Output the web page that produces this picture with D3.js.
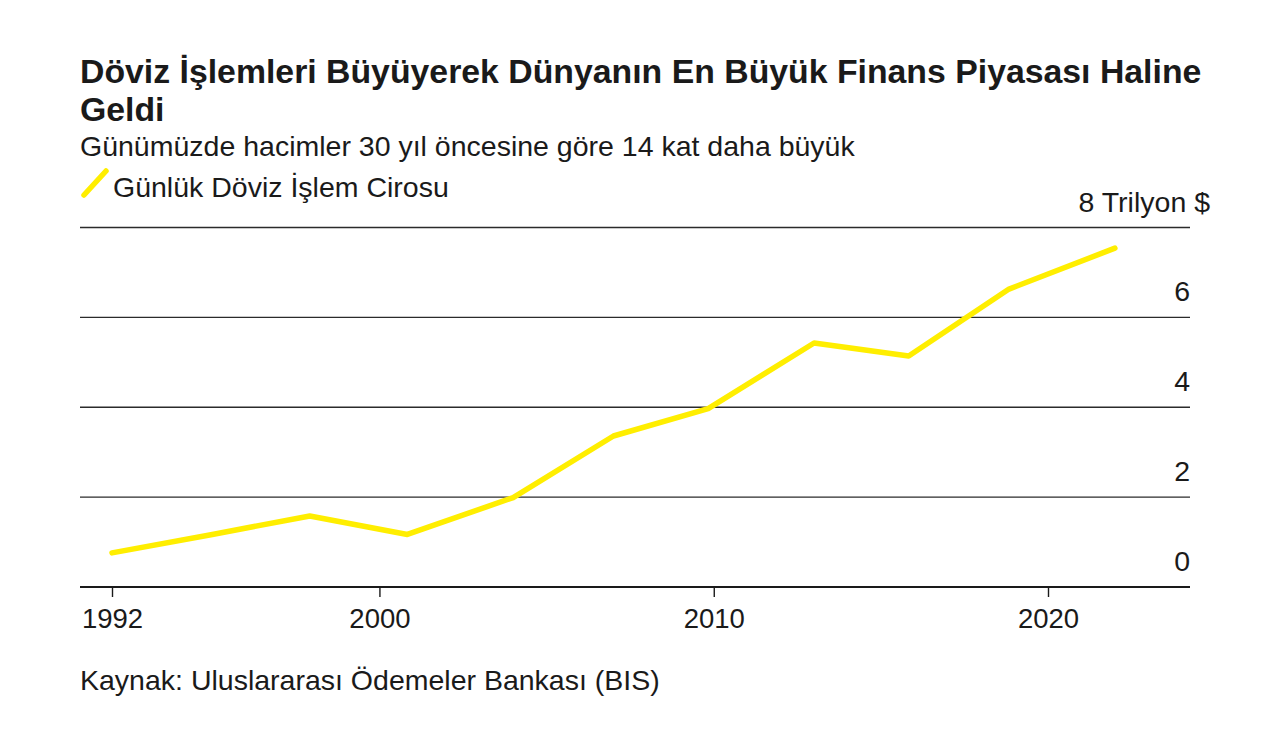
<!DOCTYPE html>
<html>
<head>
<meta charset="utf-8">
<script src="https://cdn.jsdelivr.net/npm/d3@7"></script>
<style>
  html, body { margin: 0; padding: 0; background: #ffffff; }
  svg { display: block; }
  text { font-family: "Liberation Sans", Arial, Helvetica, sans-serif; fill: #1a1a1a; }
</style>
</head>
<body>
<svg id="chart" width="1276" height="745"></svg>
<script>
// ---- Data ----
const titleLines = ["Döviz İşlemleri Büyüyerek Dünyanın En Büyük Finans Piyasası Haline", "Geldi"];
const subtitle = "Günümüzde hacimler 30 yıl öncesine göre 14 kat daha büyük";
const legendLabel = "Günlük Döviz İşlem Cirosu";
const sourceText = "Kaynak: Uluslararası Ödemeler Bankası (BIS)";
const unitLabel = "Trilyon $";

const dates = ["1992-01", "1995-01", "1997-12", "2000-11", "2004-01", "2007-01", "2009-11", "2013-01", "2015-11", "2018-11", "2022-01"];
const turnover = [0.76, 1.17, 1.58, 1.17, 1.99, 3.36, 3.97, 5.43, 5.14, 6.63, 7.54];

const yTicks = [0, 2, 4, 6, 8];
const xTickYears = [1992, 2000, 2010, 2020];

// ---- Layout ----
const svg = d3.select("#chart");
const left = 80, right = 1190;
const textSize = "28.5px";
const parse = d3.timeParse("%Y-%m");
const data = dates.map((d, i) => ({ date: parse(d), value: turnover[i] }));

const x = d3.scaleTime()
  .domain([new Date(1992, 0, 1), new Date(2020, 0, 1)])
  .range([112, 1048]);
const y = d3.scaleLinear().domain([0, 8]).range([587, 227.5]);

// Title
svg.append("g").selectAll("text").data(titleLines).join("text")
  .attr("x", left)
  .attr("y", (d, i) => 82.5 + i * 38.5)
  .style("font-size", "33.8px")
  .style("font-weight", "bold")
  .text(d => d);

svg.append("text")
  .attr("x", left).attr("y", 155.5)
  .style("font-size", textSize)
  .text(subtitle);

// Legend
svg.append("line")
  .attr("x1", 84).attr("y1", 195).attr("x2", 106).attr("y2", 171)
  .attr("stroke", "#ffee00").attr("stroke-width", 5.5).attr("stroke-linecap", "round");
svg.append("text")
  .attr("x", 113).attr("y", 197)
  .style("font-size", textSize)
  .text(legendLabel);

// Gridlines (zero is the axis)
svg.append("g").selectAll("line").data(yTicks.filter(v => v > 0)).join("line")
  .attr("x1", left).attr("x2", right)
  .attr("y1", d => y(d)).attr("y2", d => y(d))
  .attr("stroke", "#2b2b2b").attr("stroke-width", 1.4);

// Y tick labels
svg.append("g").selectAll("text").data(yTicks).join("text")
  .attr("x", d => d === 8 ? 1210 : right)
  .attr("y", d => y(d) - 16)
  .attr("text-anchor", "end")
  .style("font-size", textSize)
  .text(d => d === 8 ? d + " " + unitLabel : d);

// X axis
const xAxis = d3.axisBottom(x)
  .tickValues(xTickYears.map(yr => new Date(yr, 0, 1)))
  .tickFormat(d3.timeFormat("%Y"))
  .tickSizeInner(10)
  .tickSizeOuter(0)
  .tickPadding(11);
const gx = svg.append("g").attr("transform", `translate(0,${y(0)})`).call(xAxis);
gx.select(".domain").remove();
gx.append("line").attr("x1", left).attr("x2", right).attr("y1", 0).attr("y2", 0)
  .attr("stroke", "#1a1a1a").attr("stroke-width", 2);
gx.selectAll(".tick line").attr("stroke", "#1a1a1a").attr("stroke-width", 1.4);
gx.selectAll(".tick text")
  .style("font-size", "27.5px")
  .style("font-family", "'Liberation Sans', Arial, sans-serif")
  .attr("fill", "#1a1a1a")
  .attr("dy", "0.71em");

// Line
const line = d3.line().x(d => x(d.date)).y(d => y(d.value));
svg.append("path").datum(data)
  .attr("d", line)
  .attr("fill", "none")
  .attr("stroke", "#ffee00")
  .attr("stroke-width", 5.5)
  .attr("stroke-linejoin", "round")
  .attr("stroke-linecap", "round");

// Source
svg.append("text")
  .attr("x", left).attr("y", 690)
  .style("font-size", textSize)
  .text(sourceText);
</script>
</body>
</html>
